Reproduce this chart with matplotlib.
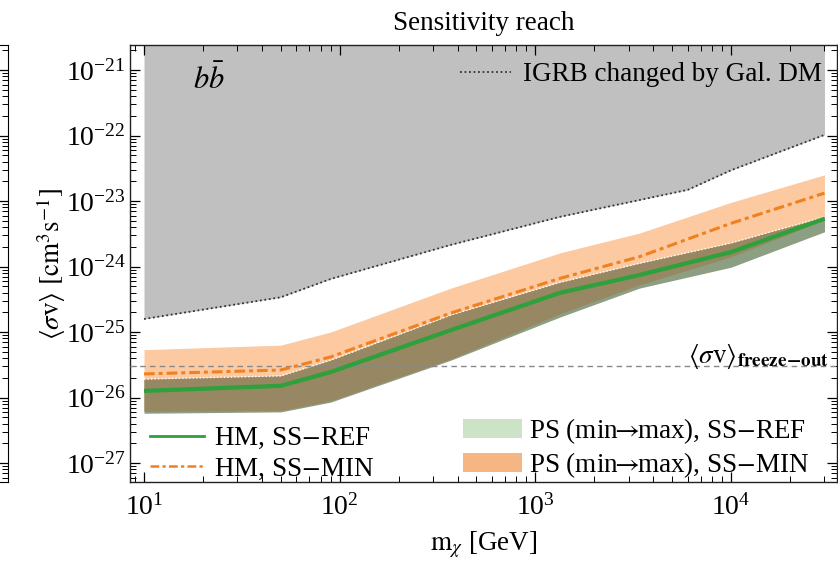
import numpy as np
import matplotlib
matplotlib.use("Agg")
import matplotlib.pyplot as plt
from matplotlib.patches import Patch
from matplotlib.lines import Line2D
from matplotlib.ticker import LogLocator, NullFormatter, FixedLocator, LogFormatterSciNotation

plt.rcParams['font.family'] = ['Liberation Serif', 'DejaVu Serif']
plt.rcParams['mathtext.fontset'] = 'stix'

# ---------------- data ----------------
m_igrb = [10, 50, 90, 370, 1340, 6000, 10000, 20000, 30000]
sv_igrb = [1.58e-25, 3.39e-25, 6.46e-25, 2.14e-24, 5.75e-24, 1.48e-23, 2.95e-23, 6.46e-23, 1.02e-22]

m_dm = [10, 50, 90, 370, 1340, 3400, 10000, 30000]
hm_ref = [1.26e-26, 1.51e-26, 2.45e-26, 1.07e-25, 3.98e-25, 7.41e-25, 1.66e-24, 5.37e-24]
hm_min = [2.29e-26, 2.63e-26, 4.17e-26, 1.95e-25, 6.61e-25, 1.41e-24, 4.57e-24, 1.32e-23]
ps_min_hi = [5.37e-26, 6.31e-26, 1.0e-25, 4.68e-25, 1.62e-24, 3.24e-24, 9.55e-24, 2.51e-23]
ps_min_lo = [6.17e-27, 6.31e-27, 8.91e-27, 3.89e-26, 1.91e-25, 5.25e-25, 1.41e-24, 5.13e-24]
ps_ref_hi = [1.91e-26, 2.14e-26, 3.72e-26, 1.82e-25, 5.75e-25, 1.12e-24, 2.29e-24, 5.75e-24]
ps_ref_lo = [5.75e-27, 6.03e-27, 8.51e-27, 3.72e-26, 1.70e-25, 4.68e-25, 9.77e-25, 3.39e-24]

sv_freeze = 3e-26

x_ticks = [1e1, 1e2, 1e3, 1e4]
y_ticks = [1e-27, 1e-26, 1e-25, 1e-24, 1e-23, 1e-22, 1e-21]

# ---------------- figure ----------------
fig = plt.figure(figsize=(8.38, 5.61), dpi=100)
W, H = 838, 561
ax = fig.add_axes([130 / W, 1 - 482 / H, 706.5 / W, 437 / H])
ax.set_xscale('log')
ax.set_yscale('log')
ax.set_xlim(8.48, 34560)
ax.set_ylim(5.13e-28, 2.41e-21)

# gray region
ytop = ax.get_ylim()[1]
ax.fill_between(m_igrb, sv_igrb, ytop, color='#c0c0c0', lw=0, zorder=1)
ax.plot(m_igrb, sv_igrb, color='#333333', ls=(0, (1, 1.5)), lw=1.3, zorder=2)

# bands
a_min_hi = np.array(ps_min_hi); a_min_lo = np.array(ps_min_lo)
a_ref_hi = np.array(ps_ref_hi); a_ref_lo = np.array(ps_ref_lo)
ax.fill_between(m_dm, a_min_lo, a_min_hi, color='#fcc9a1', lw=0, zorder=2)
ax.fill_between(m_dm, a_ref_lo, a_ref_hi, color='#8c9f83', lw=0, zorder=3)
ov_lo = np.maximum(a_min_lo, a_ref_lo)
ov_hi = np.minimum(a_min_hi, a_ref_hi)
ax.fill_between(m_dm, ov_lo, ov_hi, where=ov_hi > ov_lo, interpolate=True,
                color='#978763', lw=0, zorder=4)
ax.plot(m_dm, ps_ref_hi, color='white', ls=(0, (1, 1.5)), lw=1.0, zorder=5)

# freeze-out line
ax.axhline(sv_freeze, color='#888888', ls=(0, (4, 3)), lw=1.0, zorder=5)

# HM lines
ax.plot(m_dm, hm_ref, color='#2ea03c', lw=3.0, zorder=7, solid_capstyle='butt')
ax.plot(m_dm, hm_min, color='#f08020', lw=2.2, ls=(0, (3.5, 1.3, 1.3, 1.3)), zorder=6)

# ticks
ax.tick_params(which='both', direction='in', top=True, right=True, labelsize=20)
ax.tick_params(axis='x', which='major', pad=9)
ax.tick_params(axis='y', which='major', pad=3)
ax.tick_params(which='major', length=7, width=0.9)
ax.tick_params(which='minor', length=4, width=0.7)
ax.xaxis.set_major_locator(FixedLocator(x_ticks))
ax.xaxis.set_major_formatter(LogFormatterSciNotation())
ax.xaxis.set_minor_locator(LogLocator(base=10, subs=np.arange(2, 10), numticks=20))
ax.xaxis.set_minor_formatter(NullFormatter())
ax.yaxis.set_major_locator(FixedLocator(y_ticks))
ax.yaxis.set_major_formatter(LogFormatterSciNotation())
ax.yaxis.set_minor_locator(LogLocator(base=10, subs=np.arange(2, 10), numticks=20))
ax.yaxis.set_minor_formatter(NullFormatter())
for s in ax.spines.values():
    s.set_linewidth(1.0)
    s.set_color('#222222')

ax.set_xlabel(r'$\mathrm{m}_\chi$ [GeV]', fontsize=19.5, labelpad=6)
ax.set_ylabel(r'$\langle\sigma\mathrm{v}\rangle\ [\mathrm{cm}^3\mathrm{s}^{-1}]$', fontsize=19.5, labelpad=-2)
fig.text(484 / W, 1 - 23 / H, 'Sensitivity reach', fontsize=19.5, ha='center', va='center')

ax.text(0.089, 0.92, r'$b\bar{b}$', transform=ax.transAxes, fontsize=22, ha='left', va='center')
ax.text(0.99, 0.272, r'$\langle\sigma\mathrm{v}\rangle_{\mathbf{freeze\!-\!out}}$',
        transform=ax.transAxes, fontsize=19.5, ha='right', va='baseline', zorder=8)

# legends
leg1 = ax.legend([Line2D([], [], color='#333333', ls=(0, (1, 1.5)), lw=1.3)],
                 ['IGRB changed by Gal. DM'], loc='upper right',
                 bbox_to_anchor=(0.98, 0.96), frameon=False, fontsize=19.5,
                 handlelength=1.9, handletextpad=0.45, borderpad=0, borderaxespad=0)
ax.add_artist(leg1)
leg2 = ax.legend([Line2D([], [], color='#2ea03c', lw=2.0),
                  Line2D([], [], color='#f08020', lw=1.8, ls=(0, (3.5, 1.3, 1.3, 1.3)))],
                 ['HM, SS$-$REF', 'HM, SS$-$MIN'], loc='lower left',
                 bbox_to_anchor=(0.028, 0.0), frameon=False, fontsize=19.5,
                 handlelength=2.0, handletextpad=0.37, borderpad=0, borderaxespad=0,
                 labelspacing=0.2)
ax.add_artist(leg2)
leg3 = ax.legend([Patch(color='#cde3c8', lw=0), Patch(color='#f6b683', lw=0)],
                 [r'PS (min$\!\!\rightarrow\!\!$max), SS$-$REF',
                  r'PS (min$\!\!\rightarrow\!\!$max), SS$-$MIN'],
                 loc='lower left', bbox_to_anchor=(0.471, 0.005), frameon=False,
                 fontsize=19.5, handlelength=2.2, handleheight=0.7, handletextpad=0.26,
                 borderpad=0, borderaxespad=0, labelspacing=0.15)

# neighbouring panel edge at far left
ax0 = fig.add_axes([0, 1 - 482 / H, 8 / W, 437 / H])
ax0.set_yscale('log')
ax0.set_ylim(ax.get_ylim())
ax0.xaxis.set_visible(False)
ax0.spines['left'].set_visible(False)
ax0.patch.set_visible(False)
ax0.tick_params(which='both', direction='in', right=True, left=False, labelleft=False)
ax0.tick_params(which='major', length=7, width=0.9)
ax0.tick_params(which='minor', length=4, width=0.7)
ax0.yaxis.set_major_locator(FixedLocator(y_ticks))
ax0.yaxis.set_minor_locator(LogLocator(base=10, subs=np.arange(2, 10), numticks=20))
ax0.yaxis.set_minor_formatter(NullFormatter())
ax0.yaxis.set_major_formatter(NullFormatter())

fig.savefig('out.png', dpi=100)
